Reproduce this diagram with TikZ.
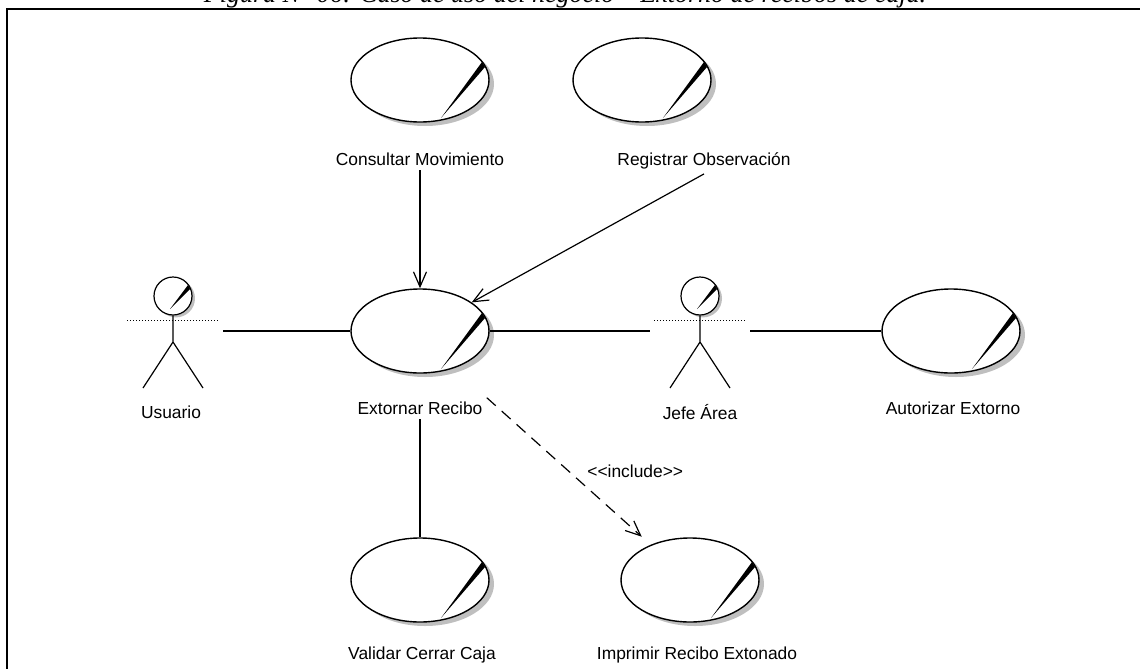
\documentclass[tikz,border=0pt]{standalone}
\usepackage{fontspec}
\setmainfont{Liberation Sans}
\newfontfamily\captionfont{Liberation Serif}
\usetikzlibrary{positioning, arrows.meta, shapes.geometric, shadows, calc}

\begin{document}
\begin{tikzpicture}[
    x=0.5pt, y=-0.5pt,
    % Styles
    usecase/.style={ellipse, draw, line width=0.7pt, fill=white, minimum width=69pt, minimum height=42pt, inner sep=0pt,
        drop shadow={shadow xshift=2.5pt, shadow yshift=-2pt, fill=gray!50, opacity=1}},
    actor/.style={minimum width=50pt, minimum height=57pt, inner sep=0pt},
    actorhead/.style={circle, draw, line width=0.6pt, fill=white, minimum size=19pt, inner sep=0pt,
        drop shadow={shadow xshift=1.5pt, shadow yshift=-1.2pt, fill=gray!50, opacity=1}},
    uclabel/.style={font=\fontsize{8.7}{10}\selectfont, inner sep=2pt},
    assoc/.style={line width=0.6pt},
    arrow/.style={assoc, -{Straight Barb[length=7.5pt, width=6.5pt]}},
    incl/.style={arrow, dash pattern=on 6pt off 4pt, shorten >=6pt},
]
\useasboundingbox (0,0) rectangle (1140,669);

% Title (cut by the page edge) and frame
\node[font=\captionfont\itshape\fontsize{13}{15}\selectfont, anchor=base] (title) at (565,3)
    {Figura N° 06: Caso de uso del negocio – Extorno de recibos de caja.};
\draw[line width=1.2pt] (7,700) -- (7,9) -- (1160,9);

% Business use cases
\node[usecase] (consultar) at (420,80) {};
\node[uclabel, below=13pt of consultar] (lconsultar) {Consultar Movimiento};
\node[usecase] (registrar) at (642,80) {};
\node[uclabel, below=13pt of registrar, xshift=31pt] (lregistrar) {Registrar Observación};
\node[usecase] (extornar) at (420,331) {};
\node[uclabel, below=12pt of extornar] (lextornar) {Extornar Recibo};
\node[usecase] (autorizar) at (951,331) {};
\node[uclabel, below=12pt of autorizar, xshift=1pt] (lautorizar) {Autorizar Extorno};
\node[usecase] (validar) at (420,580) {};
\node[uclabel, below=10pt of validar, xshift=1pt] (lvalidar) {Validar Cerrar Caja};
\node[usecase] (imprimir) at (690,580) {};
\node[uclabel, below=10pt of imprimir, xshift=3.5pt] (limprimir) {Imprimir Recibo Extonado};

% the slash of a business use case
\foreach \u in {consultar, registrar, extornar, autorizar, validar, imprimir}
    \fill ($(\u)+(62,-18)$) -- ($(\u)+(65,-13)$) -- ($(\u)+(21,38)$) -- cycle;

% Actors
\node[actor] (usuario) at (173,331) {};
\node[uclabel] (lusuario) at (171,412) {Usuario};
\node[actor] (jefe) at (700,331) {};
\node[uclabel] (ljefe) at (700,412) {Jefe Área};

\foreach \a in {usuario, jefe} {
    \node[actorhead] (\a-head) at ($(\a)+(0,-35)$) {};
    \fill ($(\a-head)+(15,-11)$) -- ($(\a-head)+(17,-7)$) -- ($(\a-head)+(-3,13)$) -- cycle;
    \draw[assoc] (\a-head.south) -- ($(\a)+(0,11)$) coordinate (\a-hip)
        -- ($(\a)+(-30,57)$) (\a-hip) -- ($(\a)+(30,57)$);
    \draw[line width=0.5pt, densely dotted] ($(\a)+(-46,-11)$) -- ($(\a)+(46,-11)$);
}

% Associations
\draw[assoc] (usuario) -- (extornar);
\draw[assoc] (extornar) -- (jefe);
\draw[assoc] (jefe) -- (autorizar);
\draw[assoc] (lextornar) -- (validar);
\draw[arrow] (lconsultar) -- (extornar);
\draw[arrow] (lregistrar.south) -- (extornar);
\draw[incl] (lextornar.north east) -- (imprimir)
    node[uclabel, midway, right=7pt] {<\kern0pt<include>\kern0pt>};

\end{tikzpicture}
\end{document}
